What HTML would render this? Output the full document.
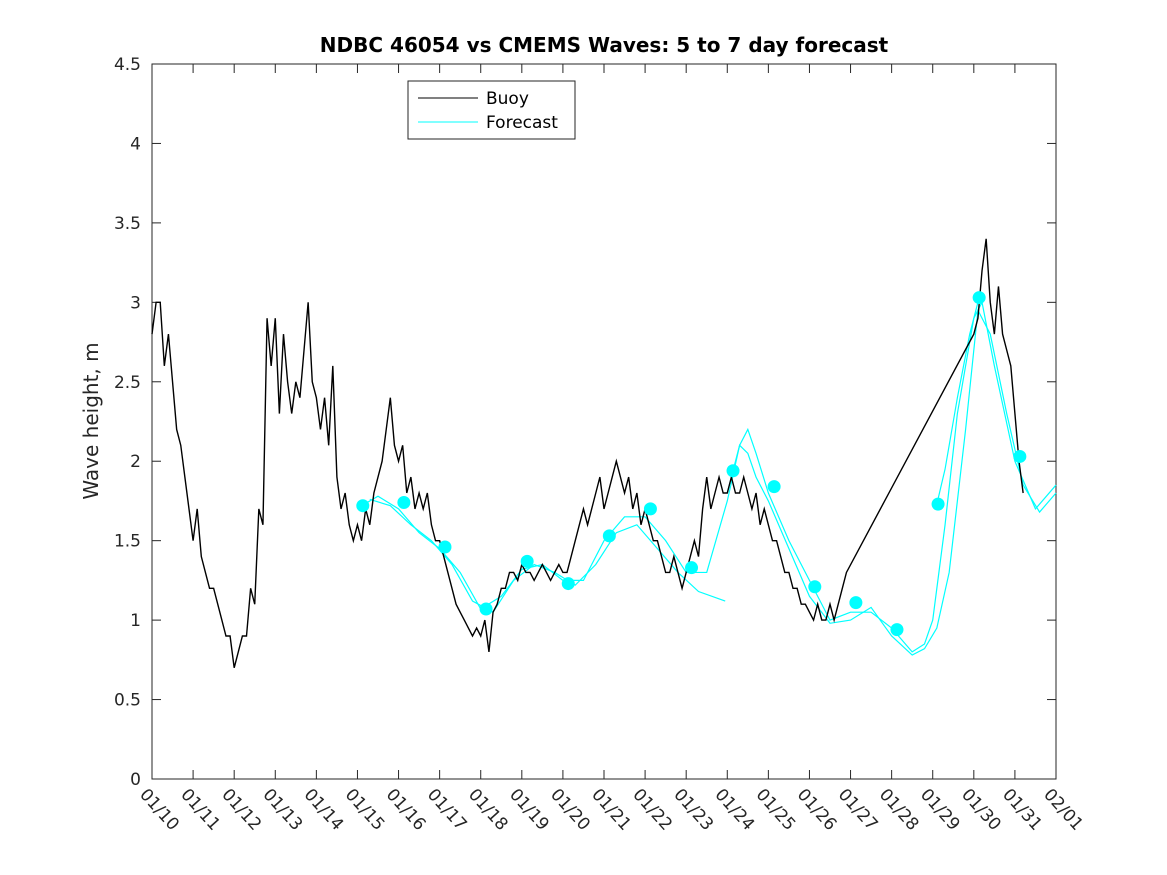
<!DOCTYPE html>
<html><head><meta charset="utf-8"><style>
body{margin:0;background:#fff;}
svg{display:block;font-family:"Liberation Sans","DejaVu Sans",sans-serif;}
</style></head><body>
<svg id="chart" width="1167" height="875" viewBox="0 0 1167 875">
<rect width="1167" height="875" fill="#fff"/>
<text x="604" y="52" text-anchor="middle" font-size="20" font-weight="bold" font-family="DejaVu Sans, sans-serif">NDBC 46054 vs CMEMS Waves: 5 to 7 day forecast</text>
<text transform="translate(98,421) rotate(-90)" text-anchor="middle" font-size="20" font-family="DejaVu Sans, sans-serif" fill="#262626">Wave height, m</text>
<g id="axes"></g>
<g id="series"></g>
<g>
<rect x="408" y="81" width="167" height="58" fill="#fff" stroke="#262626" stroke-width="1"/>
<line x1="418" y1="98" x2="478" y2="98" stroke="#000"/>
<text x="486" y="104" font-size="17" font-family="DejaVu Sans, sans-serif">Buoy</text>
<line x1="418" y1="122" x2="478" y2="122" stroke="#00ffff"/>
<text x="486" y="128" font-size="17" font-family="DejaVu Sans, sans-serif">Forecast</text>
</g>
</svg>
<script>
const xTickLabels=["01/10","01/11","01/12","01/13","01/14","01/15","01/16","01/17","01/18","01/19","01/20","01/21","01/22","01/23","01/24","01/25","01/26","01/27","01/28","01/29","01/30","01/31","02/01"];
const yTickValues=[0,0.5,1,1.5,2,2.5,3,3.5,4,4.5];
// buoy segment A: day 0.0 .. 16.9, step 0.1
const buoyStartA=0;
const buoyValuesA=[
2.8,3.0,3.0,2.6,2.8,2.5,2.2,2.1,1.9,1.7,
1.5,1.7,1.4,1.3,1.2,1.2,1.1,1.0,0.9,0.9,
0.7,0.8,0.9,0.9,1.2,1.1,1.7,1.6,2.9,2.6,
2.9,2.3,2.8,2.5,2.3,2.5,2.4,2.7,3.0,2.5,
2.4,2.2,2.4,2.1,2.6,1.9,1.7,1.8,1.6,1.5,
1.6,1.5,1.7,1.6,1.8,1.9,2.0,2.2,2.4,2.1,
2.0,2.1,1.8,1.9,1.7,1.8,1.7,1.8,1.6,1.5,
1.5,1.4,1.3,1.2,1.1,1.05,1.0,0.95,0.9,0.95,
0.9,1.0,0.8,1.05,1.1,1.2,1.2,1.3,1.3,1.25,
1.35,1.3,1.3,1.25,1.3,1.35,1.3,1.25,1.3,1.35,
1.3,1.3,1.4,1.5,1.6,1.7,1.6,1.7,1.8,1.9,
1.7,1.8,1.9,2.0,1.9,1.8,1.9,1.7,1.8,1.6,
1.7,1.6,1.5,1.5,1.4,1.3,1.3,1.4,1.3,1.2,
1.3,1.4,1.5,1.4,1.7,1.9,1.7,1.8,1.9,1.8,
1.8,1.9,1.8,1.8,1.9,1.8,1.7,1.8,1.6,1.7,
1.6,1.5,1.5,1.4,1.3,1.3,1.2,1.2,1.1,1.1,
1.05,1.0,1.1,1.0,1.0,1.1,1.0,1.1,1.2,1.3];
// buoy segment B: day 20.0 .. 21.2, step 0.1
const buoyStartB=20.0;
const buoyValuesB=[2.8,2.9,3.2,3.4,3.0,2.8,3.1,2.8,2.7,2.6,2.3,2.0,1.8];
const fcADays=[5.1,5.5,6.0,6.5,7.0,7.5,8.0,8.5,9.0,9.5,10.0,10.5,11.0,11.5,12.0,12.5,13.0,13.5,14.0,14.3,14.5,14.7,15.0,15.5,16.0,16.5,17.0,17.5,18.0,18.5,18.8,19.0,19.3,19.6,20.0,20.2,20.5,21.0,21.5,22.0];
const fcAValues=[1.72,1.78,1.7,1.55,1.45,1.3,1.07,1.15,1.32,1.35,1.25,1.25,1.5,1.65,1.65,1.5,1.3,1.3,1.75,2.1,2.2,2.05,1.8,1.5,1.25,1.0,1.05,1.05,0.95,0.8,0.85,1.0,1.6,2.3,2.9,3.0,2.6,2.0,1.7,1.85];
const fcBDays=[5.3,5.8,6.3,6.8,7.3,7.8,8.3,8.8,9.3,9.8,10.3,10.8,11.3,11.8,12.3,12.8,13.3,13.95];
const fcBValues=[1.76,1.72,1.6,1.5,1.35,1.12,1.05,1.25,1.35,1.3,1.22,1.35,1.55,1.6,1.45,1.3,1.18,1.12];
const fcCDays=[14.0,14.3,14.5,14.7,15.0,15.5,16.0,16.5,17.0,17.5,18.0,18.5,18.8,19.1,19.4,19.8,20.1,20.4,20.8,21.2,21.6,22.0];
const fcCValues=[1.8,2.1,2.05,1.9,1.75,1.45,1.15,0.98,1.0,1.08,0.9,0.78,0.82,0.95,1.3,2.2,2.95,2.8,2.3,1.85,1.68,1.8];
const fcDDays=[19.1,19.3,19.6,19.9,20.1];
const fcDValues=[1.73,1.95,2.4,2.8,3.0];
const markerDays=[5.13,6.13,7.13,8.13,9.13,10.13,11.13,12.13,13.13,14.14,15.14,16.13,17.13,18.13,19.13,20.13,21.12];
const markerValues=[1.72,1.74,1.46,1.07,1.37,1.23,1.53,1.70,1.33,1.94,1.84,1.21,1.11,0.94,1.73,3.03,2.03];

const X0=152,X1=1056,Y0=779,Y1=64;
const xs=d=>X0+(X1-X0)*d/22;
const ys=v=>Y0-(Y0-Y1)*v/4.5;
const NS="http://www.w3.org/2000/svg";
function mk(tag,attrs,parent){const e=document.createElementNS(NS,tag);for(const k in attrs)e.setAttribute(k,attrs[k]);parent.appendChild(e);return e;}
const axes=document.getElementById('axes'),series=document.getElementById('series');
mk('rect',{x:X0,y:Y1,width:X1-X0,height:Y0-Y1,fill:'none',stroke:'#262626','stroke-width':1},axes);
yTickValues.forEach(v=>{
  const y=ys(v);
  mk('line',{x1:X0,y1:y,x2:X0+9,y2:y,stroke:'#262626'},axes);
  mk('line',{x1:X1,y1:y,x2:X1-9,y2:y,stroke:'#262626'},axes);
  const t=mk('text',{x:141,y:y+6,'text-anchor':'end','font-size':17,fill:'#262626','font-family':'DejaVu Sans, sans-serif'},axes);
  
  
  t.textContent=String(v);
});
xTickLabels.forEach((lab,i)=>{
  const x=xs(i);
  mk('line',{x1:x,y1:Y0,x2:x,y2:Y0-9,stroke:'#262626'},axes);
  mk('line',{x1:x,y1:Y1,x2:x,y2:Y1+9,stroke:'#262626'},axes);
  const t=mk('text',{transform:`translate(${x-13},${795}) rotate(48)`,'font-size':17,fill:'#262626','font-family':'DejaVu Sans, sans-serif'},axes);
  
  
  t.textContent=lab;
});
function line(days,vals,color,name,w){
  const p=mk('polyline',{points:days.map((d,i)=>xs(d)+','+ys(vals[i])).join(' '),fill:'none',stroke:color,'stroke-width':w},series);
  
  
}
line(fcADays,fcAValues,'#00ffff','forecast-line-a',1.2);
line(fcBDays,fcBValues,'#00ffff','forecast-line-b',1.2);
line(fcCDays,fcCValues,'#00ffff','forecast-line-c',1.2);
line(fcDDays,fcDValues,'#00ffff','forecast-line-d',1.2);
const bDays=[],bVals=[];
buoyValuesA.forEach((v,i)=>{bDays.push(buoyStartA+i*0.1);bVals.push(v);});
buoyValuesB.forEach((v,i)=>{bDays.push(buoyStartB+i*0.1);bVals.push(v);});
line(bDays,bVals,'#000','buoy-line',1.4);
markerDays.forEach((d,i)=>{
  const c=mk('circle',{cx:xs(d),cy:ys(markerValues[i]),r:6.5,fill:'#00ffff'},series);
  
  
});
</script>
</body></html>
